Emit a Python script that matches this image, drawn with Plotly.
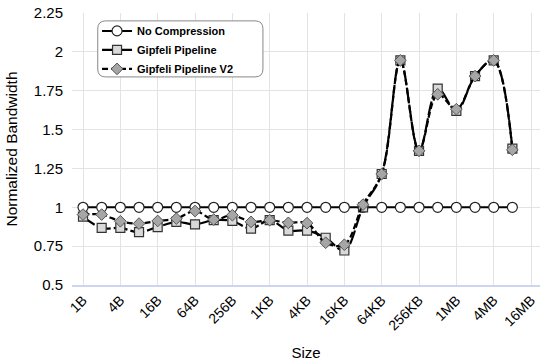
import plotly.graph_objects as go

tick_labels = ["1B", "4B", "16B", "64B", "256B", "1KB", "4KB", "16KB", "64KB", "256KB", "1MB", "4MB", "16MB"]
sizes = ["1B", "2B", "4B", "8B", "16B", "32B", "64B", "128B", "256B", "512B",
         "1KB", "2KB", "4KB", "8KB", "16KB", "32KB", "64KB", "128KB", "256KB", "512KB",
         "1MB", "2MB", "4MB", "8MB"]
no_compression = [1.0] * 24
gipfeli = [0.94, 0.867, 0.867, 0.84, 0.873, 0.906, 0.89, 0.917, 0.912, 0.863,
           0.917, 0.85, 0.85, 0.804, 0.722, 1.0, 1.214, 1.945, 1.363, 1.763,
           1.62, 1.844, 1.945, 1.378]
gipfeli_v2 = [0.953, 0.953, 0.91, 0.895, 0.912, 0.927, 0.976, 0.921, 0.949, 0.906,
              0.917, 0.9, 0.898, 0.772, 0.759, 1.017, 1.214, 1.945, 1.363, 1.727,
              1.631, 1.844, 1.945, 1.37]

x_idx = list(range(len(sizes)))
tick_idx = list(range(0, 2 * len(tick_labels), 2))

fig = go.Figure()
fig.add_trace(go.Scatter(
    x=x_idx, y=no_compression, name="No Compression", mode="lines+markers",
    line=dict(color="black", width=2),
    marker=dict(symbol="circle", size=10, color="white", line=dict(color="#222", width=1.2)),
    text=sizes))
fig.add_trace(go.Scatter(
    x=x_idx, y=gipfeli, name="Gipfeli Pipeline", mode="lines+markers",
    line=dict(color="black", width=2.2, dash="14px,3px", shape="spline", smoothing=1),
    marker=dict(symbol="square", size=9, color="#d9d9d9", line=dict(color="#333", width=1.2)),
    text=sizes))
fig.add_trace(go.Scatter(
    x=x_idx, y=gipfeli_v2, name="Gipfeli Pipeline V2", mode="lines+markers",
    line=dict(color="black", width=2.2, dash="6px,3px", shape="spline", smoothing=1),
    marker=dict(symbol="diamond", size=9, color="#a6a6a6", line=dict(color="#555", width=1)),
    text=sizes))

# rounded legend frame (paper coords; plot area 468 x 272 px)
x0, x1, y0, y1 = 0.055, 0.408, 0.765, 0.971
rx, ry = 0.017, 0.029
fig.add_shape(type="path", xref="paper", yref="paper", layer="above",
              path=(f"M {x0+rx},{y0} L {x1-rx},{y0} Q {x1},{y0} {x1},{y0+ry} "
                    f"L {x1},{y1-ry} Q {x1},{y1} {x1-rx},{y1} L {x0+rx},{y1} "
                    f"Q {x0},{y1} {x0},{y1-ry} L {x0},{y0+ry} Q {x0},{y0} {x0+rx},{y0} Z"),
              line=dict(color="#888", width=1), fillcolor="rgba(255,255,255,1)")

fig.update_layout(
    width=550, height=364,
    margin=dict(l=72, r=10, t=13, b=79),
    plot_bgcolor="white", paper_bgcolor="white",
    font=dict(family="Liberation Sans, Arial, sans-serif", color="black", size=14),
    showlegend=True,
    legend=dict(x=0.0535, y=0.9875, xanchor="left", yanchor="top",
                bgcolor="rgba(0,0,0,0)", borderwidth=0,
                font=dict(size=11, family="Liberation Sans, Arial, sans-serif", weight="bold"),
                itemwidth=30, tracegroupgap=0),
    xaxis=dict(range=[-0.59, 24.48], tickmode="array", tickvals=tick_idx, ticktext=tick_labels,
               tickangle=-45, showgrid=True, gridcolor="#e3e3e3", gridwidth=1,
               showline=True, linecolor="#cdd6ee", linewidth=1.5, zeroline=False,
               tickfont=dict(size=14), automargin=False,
               title=dict(text="Size", font=dict(size=15), standoff=15)),
    yaxis=dict(range=[0.5, 2.25], dtick=0.25, tick0=0.5, showgrid=True, gridcolor="#e3e3e3",
               gridwidth=1, zeroline=False, showline=False, ticklabelstandoff=8,
               tickfont=dict(size=15), automargin=False,
               title=dict(text="Normalized Bandwidth", font=dict(size=15.5), standoff=12)),
)

fig.write_html("out.html", config={"displayModeBar": False},
               post_script="document.body.style.margin='0';")
